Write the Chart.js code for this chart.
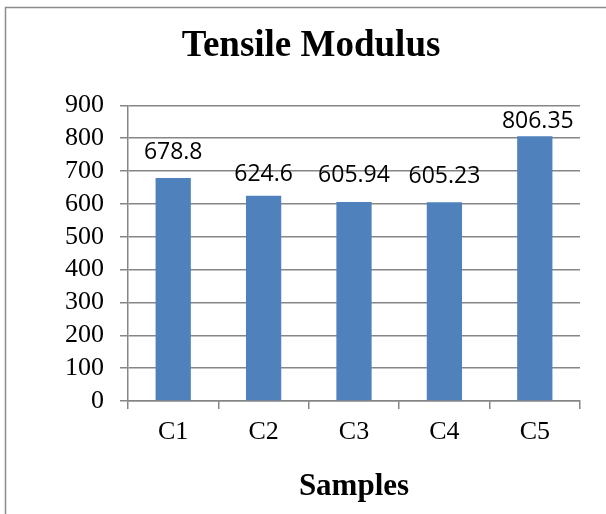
<!DOCTYPE html>
<html>
<head>
<meta charset="utf-8">
<script src="https://cdn.jsdelivr.net/npm/chart.js@4/dist/chart.umd.min.js"></script>
<style>
  html, body { margin: 0; padding: 0; background: #fff; }
  canvas { display: block; }
</style>
</head>
<body>
<canvas id="modulus-chart" width="606" height="514"></canvas>
<script>
// chart data
const categories = ['C1', 'C2', 'C3', 'C4', 'C5'];
const modulusValues = [678.8, 624.6, 605.94, 605.23, 806.35];
const valueLabels = ['678.8', '624.6', '605.94', '605.23', '806.35'];
const yMin = 0;
const yMax = 900;
const yStep = 100;

const serif = '"Liberation Serif", "Times New Roman", serif';
const gridGray = '#868686';

// label nudges (dx, dy above bar top), the labels in the original sit by hand
const labelShift = [[0, 26], [0, 21], [0, 27], [0, 26], [3, 15]];

const frameBox = {
    id: 'frameBox',
    beforeDraw(chart) {
        const ctx = chart.ctx;
        ctx.save();
        ctx.fillStyle = '#fff';
        ctx.fillRect(0, 0, chart.width, chart.height);
        ctx.strokeStyle = '#8c8c8c';
        ctx.lineWidth = 1.5;
        ctx.strokeRect(5.5, 7.5, chart.width + 20, chart.height + 20);
        ctx.restore();
    }
};

const barValueLabels = {
    id: 'barValueLabels',
    afterDatasetsDraw(chart) {
        const ctx = chart.ctx;
        const meta = chart.getDatasetMeta(0);
        ctx.save();
        ctx.font = '23px "Open Sans", sans-serif';
        ctx.fillStyle = '#000';
        ctx.textAlign = 'center';
        ctx.textBaseline = 'middle';
        meta.data.forEach((bar, i) => {
            const s = labelShift[i];
            ctx.fillText(valueLabels[i], bar.x + s[0], bar.y - s[1]);
        });
        ctx.restore();
    }
};

const modulusChart = new Chart(document.getElementById('modulus-chart'), {
    type: 'bar',
    data: {
        labels: categories,
        datasets: [
            {
                label: 'Tensile Modulus',
                data: modulusValues,
                backgroundColor: '#4F81BD',
                borderWidth: 0,
                barPercentage: 0.39,
                categoryPercentage: 1
            }
        ]
    },
    options: {
        responsive: false,
        animation: false,
        layout: {
            padding: {left: 42, right: 26, top: 24, bottom: 8}
        },
        plugins: {
            legend: {display: false},
            tooltip: {enabled: false},
            title: {
                display: true,
                text: 'Tensile Modulus',
                color: '#000',
                font: {family: serif, size: 37, weight: 'bold', lineHeight: 1.2},
                padding: {top: 0, bottom: 37}
            }
        },
        scales: {
            x: {
                afterFit(scale) { scale.height = 105; },
                grid: {
                    display: true,
                    drawOnChartArea: false,
                    drawTicks: true,
                    tickLength: 8,
                    color: gridGray,
                    lineWidth: 1.5
                },
                border: {display: true, color: gridGray, width: 1.5},
                ticks: {
                    color: '#000',
                    font: {family: serif, size: 26, lineHeight: 1.2},
                    padding: 8
                },
                title: {
                    display: true,
                    text: 'Samples',
                    color: '#000',
                    font: {family: serif, size: 31, weight: 'bold', lineHeight: 1.2},
                    padding: {top: 20, bottom: 0}
                }
            },
            y: {
                min: yMin,
                max: yMax,
                afterFit(scale) { scale.width = 86; },
                grid: {
                    color: gridGray,
                    lineWidth: 1.5,
                    tickLength: 8
                },
                border: {display: true, color: gridGray, width: 1.5},
                ticks: {
                    stepSize: yStep,
                    autoSkip: false,
                    color: '#000',
                    font: {family: serif, size: 26},
                    padding: 16
                }
            }
        }
    },
    plugins: [frameBox, barValueLabels]
});
</script>
</body>
</html>
